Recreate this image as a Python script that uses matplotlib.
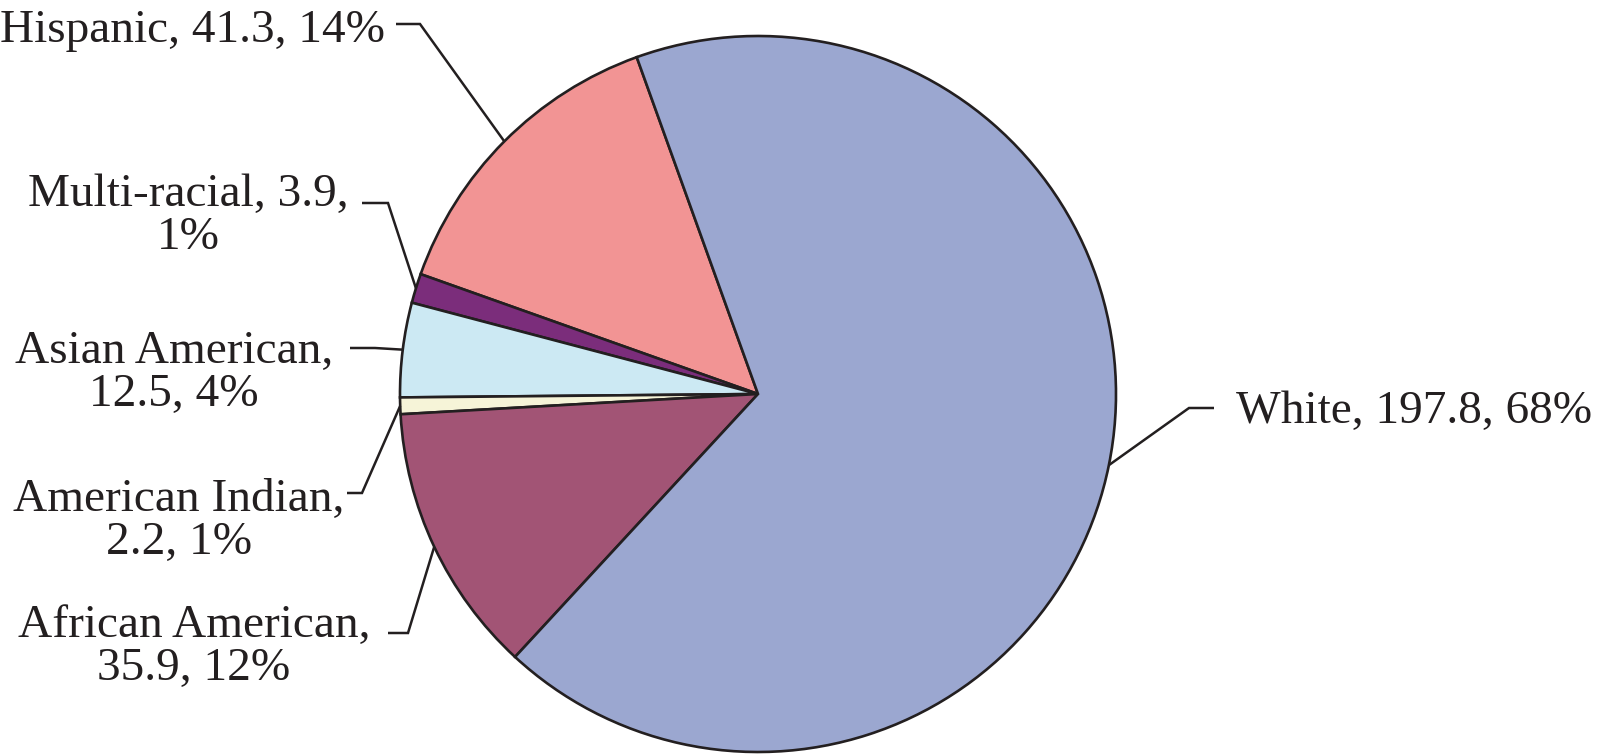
import matplotlib
matplotlib.use("Agg")
import matplotlib.pyplot as plt
import numpy as np

# ---- data ----
categories = ["Hispanic", "Multi-racial", "Asian American",
              "American Indian", "African American", "White"]
values = [41.3, 3.9, 12.5, 2.2, 35.9, 197.8]
percents = [14, 1, 4, 1, 12, 68]
colors = ["#F29494", "#7B2D7B", "#CCE9F3", "#F6F4D8", "#A25475", "#9BA7D0"]

# ---- layout (pixel coordinates, y downward) ----
W, H = 1600, 756
CX, CY, R = 758, 394, 358
INK = "#231F20"
FONT = "Liberation Serif"
FS = 34
LINE_GAP = 43

layout = {
    "Hispanic":         dict(hx=(396, 420), hy=24,  tx=385,  ty=42,  ha="right",  k=None),
    "Multi-racial":     dict(hx=(362, 388), hy=203, tx=188,  ty=206, ha="center", k=2),
    "Asian American":   dict(hx=(350, 375), hy=348, tx=174,  ty=363, ha="center", k=1),
    "American Indian":  dict(hx=(347, 362), hy=493, tx=179,  ty=511, ha="center", k=1),
    "African American": dict(hx=(388, 408), hy=633, tx=194,  ty=637, ha="center", k=1),
    "White":            dict(hx=(1214, 1189), hy=408, tx=1236, ty=423, ha="left", k=None),
}


def P(x, y):
    return x, H - y


fig = plt.figure(figsize=(16, 7.56), dpi=100)
ax = fig.add_axes([0, 0, 1, 1])

wedges, _ = ax.pie(values, colors=colors, startangle=109.8, counterclock=True,
                   radius=R, center=P(CX, CY), frame=False,
                   wedgeprops=dict(edgecolor=INK, linewidth=1.9))
ax.set_aspect("auto")
ax.set_xlim(0, W)
ax.set_ylim(0, H)
ax.axis("off")

for name, v, p, w in zip(categories, values, percents, wedges):
    L = layout[name]
    theta = np.deg2rad((w.theta1 + w.theta2) / 2)
    cx, cy = P(CX, CY)
    ax_pt = (cx + R * np.cos(theta), cy + R * np.sin(theta))
    x0, y0 = P(L["hx"][0], L["hy"])
    x1, y1 = P(L["hx"][1], L["hy"])
    ax.plot([x0, x1, ax_pt[0]], [y0, y1, ax_pt[1]], color=INK, lw=1.8,
            solid_capstyle="butt", solid_joinstyle="miter")
    parts = [name, f"{v}", f"{p}%"]
    if L["k"] is None:
        lines = [", ".join(parts)]
    else:
        lines = [", ".join(parts[:L["k"]]) + ",", ", ".join(parts[L["k"]:])]
    for i, s in enumerate(lines):
        tx, ty = P(L["tx"], L["ty"] + i * LINE_GAP)
        ax.text(tx, ty, s, ha=L["ha"], va="baseline", fontsize=FS,
                family=FONT, color=INK)

fig.savefig("out.png", dpi=100, facecolor="white")
